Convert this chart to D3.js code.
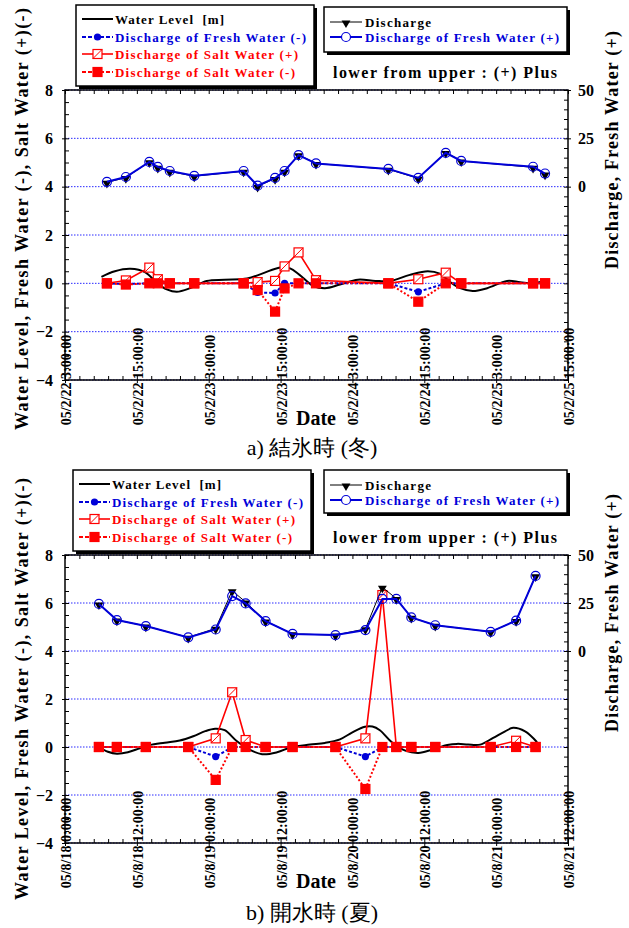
<!DOCTYPE html>
<html><head><meta charset="utf-8">
<script src="https://cdn.jsdelivr.net/npm/d3@7"></script>
<style>
body{margin:0;background:#fff}
svg{display:block}
text{font-family:"Liberation Serif","Times New Roman",serif;}
</style>
</head><body><svg id="c" width="629" height="928"></svg>
<script>
// ---------------- DATA ----------------
// a) winter (ice-covered)
const winterDomain = ["2005-02-22 03:00", "2005-02-25 15:00"];
const winterTimes = ["2005-02-22 10:00","2005-02-22 13:10","2005-02-22 17:05","2005-02-22 18:30","2005-02-22 20:30","2005-02-23 00:35",
  "2005-02-23 08:50","2005-02-23 11:10","2005-02-23 14:05","2005-02-23 15:40","2005-02-23 18:00","2005-02-23 20:55",
  "2005-02-24 09:00","2005-02-24 14:00","2005-02-24 18:35","2005-02-24 21:10","2005-02-25 09:10","2005-02-25 11:10"];
const winterDischarge  = [2.2, 4.7, 12.8, 10.0, 7.9, 5.4, 8.0, 0.2, 4.2, 8.0, 16.5, 12.0, 9.0, 4.3, 17.7, 13.3, 10.0, 6.5];
const winterFreshPlus  = [2.5, 5.0, 12.8, 10.2, 8.1, 5.6, 8.1, 0.5, 4.5, 8.1, 16.3, 12.0, 9.2, 4.5, 17.5, 13.3, 10.3, 6.8];
const winterFreshMinus = [0, -0.03, 0, 0, 0, 0, 0, -0.38, -0.4, 0, 0, 0, 0, -0.35, 0, 0, 0, 0];
const winterSaltPlus   = [0, 0.12, 0.65, 0.17, 0, 0, 0, 0.05, 0.1, 0.7, 1.28, 0.13, 0, 0.17, 0.44, 0, 0, 0];
const winterSaltMinus  = [0, -0.05, 0, 0, 0, 0, 0, -0.28, -1.17, -0.21, 0, 0, 0, -0.76, 0, 0, 0, 0];
const winterLevelTimes = ["2005-02-22 09:05","2005-02-22 11:20","2005-02-22 13:55","2005-02-22 16:25","2005-02-22 18:25","2005-02-22 20:00",
  "2005-02-22 21:40","2005-02-22 23:55","2005-02-23 02:40","2005-02-23 05:40","2005-02-23 09:25","2005-02-23 11:55","2005-02-23 14:55",
  "2005-02-23 16:35","2005-02-23 18:10","2005-02-23 20:25","2005-02-23 22:25","2005-02-24 00:55","2005-02-24 03:55","2005-02-24 06:50",
  "2005-02-24 09:20","2005-02-24 12:35","2005-02-24 15:35","2005-02-24 17:35","2005-02-24 19:20","2005-02-24 21:00","2005-02-24 23:05",
  "2005-02-25 01:30","2005-02-25 04:50","2005-02-25 07:00","2005-02-25 09:10","2005-02-25 11:40"];
const winterLevel = [0.27, 0.5, 0.6, 0.45, 0.0, -0.25, -0.35, -0.2, 0.1, 0.15, 0.2, 0.4, 0.66, 0.62, 0.35, -0.1, -0.2, -0.05, 0.15, 0.1,
  0.1, 0.35, 0.5, 0.4, 0.05, -0.2, -0.32, -0.2, 0.1, 0.05, 0.0, 0.15];

// b) summer (open water)
const summerDomain = ["2005-08-18 00:00", "2005-08-21 12:00"];
const summerTimes = ["2005-08-18 05:40","2005-08-18 08:40","2005-08-18 13:30","2005-08-18 20:35","2005-08-19 01:10","2005-08-19 03:55",
  "2005-08-19 06:10","2005-08-19 09:30","2005-08-19 14:00","2005-08-19 21:10","2005-08-20 02:10","2005-08-20 05:00",
  "2005-08-20 07:20","2005-08-20 09:50","2005-08-20 13:50","2005-08-20 23:05","2005-08-21 03:20","2005-08-21 06:35"];
const summerDischarge  = [24.5, 16.1, 13.0, 7.1, 11.8, 31.4, 25.5, 15.6, 8.9, 8.3, 11.5, 33.2, 27.3, 17.5, 13.4, 10.0, 15.8, 39.1];
const summerFreshPlus  = [24.5, 16.1, 13.0, 7.1, 11.2, 28.6, 24.8, 15.6, 8.9, 8.3, 10.9, 27.1, 27.1, 17.5, 13.4, 10.0, 15.8, 39.1];
const summerFreshMinus = [0, 0, 0, 0, -0.4, 0, 0, 0, 0, 0, -0.4, 0, 0, 0, 0, 0, 0, 0];
const summerSaltPlus   = [0, 0, 0, 0, 0.36, 2.28, 0.29, 0, 0, 0, 0.36, 6.33, 0, 0, 0, 0, 0.26, 0];
const summerSaltMinus  = [0, 0, 0, 0, -1.37, 0, 0, 0, 0, 0, -1.75, 0, 0, 0, 0, 0, 0, 0];
const summerLevelTimes = ["2005-08-18 05:40","2005-08-18 07:10","2005-08-18 08:40","2005-08-18 10:30","2005-08-18 12:30","2005-08-18 14:10",
  "2005-08-18 16:40","2005-08-18 19:10","2005-08-18 21:25","2005-08-18 23:25","2005-08-19 01:05","2005-08-19 02:40","2005-08-19 04:40",
  "2005-08-19 06:35","2005-08-19 08:55","2005-08-19 11:25","2005-08-19 13:55","2005-08-19 16:55","2005-08-19 19:25","2005-08-19 21:55",
  "2005-08-19 23:55","2005-08-20 02:05","2005-08-20 03:20","2005-08-20 04:35","2005-08-20 06:35","2005-08-20 08:50","2005-08-20 11:00",
  "2005-08-20 13:30","2005-08-20 15:50","2005-08-20 17:30","2005-08-20 19:20","2005-08-20 21:20","2005-08-20 23:30","2005-08-21 01:30",
  "2005-08-21 02:50","2005-08-21 04:50","2005-08-21 06:50"];
const summerLevel = [0.0, -0.2, -0.28, -0.22, -0.05, 0.08, 0.18, 0.27, 0.45, 0.66, 0.76, 0.7, 0.25, -0.08, -0.3, -0.22, 0.0, 0.1, 0.17,
  0.32, 0.6, 0.84, 0.85, 0.7, 0.2, -0.15, -0.25, -0.1, 0.08, 0.13, 0.1, 0.1, 0.38, 0.65, 0.8, 0.65, 0.2];

// axes / labels
const leftTicks = [8, 6, 4, 2, 0, -2, -4];
const rightTicks = [50, 25, 0];
const leftTitle = "Water Level, Fresh Water (-), Salt Water (+)(-)";
const rightTitle = "Discharge, Fresh Water (+)";
const xTitle = "Date";
const legendLeftLabels = ["Water Level  [m]", "Discharge of Fresh Water (-)", "Discharge of Salt Water (+)", "Discharge of Salt Water (-)"];
const legendRightLabels = ["Discharge", "Discharge of Fresh Water (+)"];
const noteText = "lower from upper : (+) Plus";
const captions = ["a) 結氷時 (冬)", "b) 開水時 (夏)"];

// ---------------- DRAW ----------------
const parse = d3.timeParse("%Y-%m-%d %H:%M");
const fmtDate = d3.timeFormat("%y/%-m/%-d");
const fmtTime = d3.timeFormat("%-H:%M:%S");
const svg = d3.select("#c");
const X0 = 65, X1 = 568;
const BLUE = "#0000d8", RED = "#ff0000", GRID = "#2a2aff";

const panels = [
  {domain: winterDomain, times: winterTimes, dis: winterDischarge, fp: winterFreshPlus, fm: winterFreshMinus,
   sp: winterSaltPlus, sm: winterSaltMinus, lt: winterLevelTimes, lv: winterLevel, cap: captions[0]},
  {domain: summerDomain, times: summerTimes, dis: summerDischarge, fp: summerFreshPlus, fm: summerFreshMinus,
   sp: summerSaltPlus, sm: summerSaltMinus, lt: summerLevelTimes, lv: summerLevel, cap: captions[1]}
];
const layouts = [
  {top: 90, bottom: 380, legL: [76, 5], legR: [324, 7], legRh: 45, noteY: 78, lTitleY: 219, rTitleY: 150, dateY: 425, capY: 455},
  {top: 555, bottom: 843, legL: [73, 470], legR: [324, 470], legRh: 43, noteY: 543, lTitleY: 689, rTitleY: 613, dateY: 888, capY: 920}
];

const sq = (g, cx, cy, s, filled) => {
  g.append("rect").attr("x", cx - s/2).attr("y", cy - s/2).attr("width", s).attr("height", s)
    .attr("fill", filled ? RED : "#fff").attr("stroke", RED).attr("stroke-width", 1.2);
  if (!filled) g.append("line").attr("x1", cx - s/2).attr("y1", cy + s/2).attr("x2", cx + s/2).attr("y2", cy - s/2)
    .attr("stroke", RED).attr("stroke-width", 1);
};
const tri = d3.symbol().type(d3.symbolTriangle).size(34);

panels.forEach((p, i) => {
  const L = layouts[i];
  const x = d3.scaleTime([parse(p.domain[0]), parse(p.domain[1])], [X0, X1]);
  const y = d3.scaleLinear([-4, 8], [L.bottom, L.top]);
  const yR = d3.scaleLinear([-100, 50], [L.bottom, L.top]);
  const g = svg.append("g");
  const T = p.times.map(parse);

  // grid
  g.selectAll(".gr").data(leftTicks).join("line")
    .attr("x1", X0).attr("x2", X1).attr("y1", d => y(d)).attr("y2", d => y(d))
    .attr("stroke", GRID).attr("stroke-width", 1).attr("stroke-dasharray", "1.5,1.5");

  // water level
  const lvl = p.lt.map((t, k) => [parse(t), p.lv[k]]);
  g.append("path").attr("d", d3.line().x(d => x(d[0])).y(d => y(d[1])).curve(d3.curveCatmullRom)(lvl))
    .attr("fill", "none").attr("stroke", "#000").attr("stroke-width", 2);

  const line = (vals, sc) => d3.line().x((d, k) => x(T[k])).y(d => sc(d))(vals);

  // fresh (-)
  g.append("path").attr("d", line(p.fm, y)).attr("fill", "none").attr("stroke", BLUE)
    .attr("stroke-width", 2).attr("stroke-dasharray", "3,2");
  p.fm.forEach((v, k) => g.append("circle").attr("cx", x(T[k])).attr("cy", y(v)).attr("r", 3.6).attr("fill", BLUE));

  // salt (+)
  g.append("path").attr("d", line(p.sp, y)).attr("fill", "none").attr("stroke", RED).attr("stroke-width", 1.6);
  p.sp.forEach((v, k) => sq(g, x(T[k]), y(v), 9, false));

  // salt (-)
  g.append("path").attr("d", line(p.sm, y)).attr("fill", "none").attr("stroke", RED)
    .attr("stroke-width", 2).attr("stroke-dasharray", "2,2");
  p.sm.forEach((v, k) => sq(g, x(T[k]), y(v), 9, true));

  // discharge (right axis)
  g.append("path").attr("d", line(p.dis, yR)).attr("fill", "none").attr("stroke", "#000").attr("stroke-width", 1);
  p.dis.forEach((v, k) => g.append("path").attr("d", tri)
    .attr("transform", `translate(${x(T[k])},${yR(v) + 1}) rotate(180)`).attr("fill", "#000"));

  // fresh (+)
  g.append("path").attr("d", line(p.fp, yR)).attr("fill", "none").attr("stroke", BLUE).attr("stroke-width", 2);
  p.fp.forEach((v, k) => g.append("circle").attr("cx", x(T[k])).attr("cy", yR(v)).attr("r", 4.5)
    .attr("fill", "none").attr("stroke", BLUE).attr("stroke-width", 1.2));

  // frame
  g.append("rect").attr("x", X0).attr("y", L.top).attr("width", X1 - X0).attr("height", L.bottom - L.top)
    .attr("fill", "none").attr("stroke", "#000").attr("stroke-width", 1.5);

  const clean = s => s.select(".domain").remove();
  // left axis: minor inward, major crossing + labels
  g.append("g").attr("transform", `translate(${X0},0)`)
    .call(d3.axisRight(y).tickValues(d3.range(-4, 8.01, 0.5)).tickSize(4).tickFormat("")).call(clean);
  g.append("g").attr("transform", `translate(${X0},0)`)
    .call(d3.axisLeft(y).tickValues(leftTicks).tickSize(3).tickPadding(9)).call(clean)
    .call(s => s.selectAll("text").attr("font-family", "Liberation Serif").attr("font-weight", "bold")
      .attr("font-size", 16).attr("fill", "#000"));
  // right axis
  g.append("g").attr("transform", `translate(${X1},0)`)
    .call(d3.axisLeft(yR).tickValues(d3.range(-100, 50.1, 5)).tickSize(4).tickFormat("")).call(clean);
  g.append("g").attr("transform", `translate(${X1},0)`)
    .call(d3.axisRight(yR).tickValues(rightTicks).tickSize(3).tickPadding(7)).call(clean)
    .call(s => s.selectAll("text").attr("font-family", "Liberation Serif").attr("font-weight", "bold")
      .attr("font-size", 16).attr("fill", "#000"));
  // time axes
  const t0 = parse(p.domain[0]);
  const minor = d3.range(0, 36).map(k => d3.timeMinute.offset(t0, k * 144));
  const major = d3.range(0, 8).map(k => d3.timeHour.offset(t0, k * 12));
  g.append("g").attr("transform", `translate(0,${L.top})`)
    .call(d3.axisBottom(x).tickValues(minor).tickSize(4).tickFormat("")).call(clean);
  g.append("g").attr("transform", `translate(0,${L.bottom})`)
    .call(d3.axisTop(x).tickValues(minor).tickSize(4).tickFormat("")).call(clean);
  g.append("g").attr("transform", `translate(0,${L.bottom})`)
    .call(d3.axisBottom(x).tickValues(major).tickSize(3).tickFormat("")).call(clean);
  g.selectAll("line").filter(function(){ return this.parentNode.classList.contains("tick"); })
    .attr("stroke", "#000").attr("stroke-width", 1);

  // rotated date labels, crossing the axis at the space
  major.forEach(t => {
    const ds = fmtDate(t) + " ";
    const tx = g.append("text").text(ds + fmtTime(t)).attr("font-weight", "bold").attr("font-size", 14).attr("fill", "#000");
    const w = tx.node().getSubStringLength(0, ds.length);
    tx.attr("transform", `translate(${x(t) + 6},${L.bottom + w - 1}) rotate(-90)`);
  });

  // axis titles
  g.append("text").text(leftTitle).attr("transform", `translate(28,${L.lTitleY}) rotate(-90)`)
    .attr("text-anchor", "middle").attr("font-weight", "bold").attr("font-size", 18).attr("textLength", 422);
  g.append("text").text(rightTitle).attr("transform", `translate(618,${L.rTitleY}) rotate(-90)`)
    .attr("text-anchor", "middle").attr("font-weight", "bold").attr("font-size", 18).attr("textLength", 238);
  g.append("text").text(xTitle).attr("x", 316).attr("y", L.dateY).attr("text-anchor", "middle")
    .attr("font-weight", "bold").attr("font-size", 20);
  g.append("text").text(p.cap).attr("x", 312).attr("y", L.capY).attr("text-anchor", "middle")
    .attr("font-size", 22).attr("font-family", "'Liberation Serif','Noto Sans CJK JP',serif");

  // left legend
  const [lx, ly] = L.legL;
  const lg = svg.append("g");
  lg.append("rect").attr("x", lx + 3).attr("y", ly + 3).attr("width", 238).attr("height", 81).attr("fill", "#000");
  lg.append("rect").attr("x", lx).attr("y", ly).attr("width", 238).attr("height", 81).attr("fill", "#fff")
    .attr("stroke", "#000").attr("stroke-width", 1.5);
  const rows = [14, 32, 49, 67].map(d => ly + d);
  const lens = [109, 191, 183, 180];
  const cols = ["#000", BLUE, RED, RED];
  const x1 = lx + 6, x2 = lx + 37, xm = (x1 + x2) / 2;
  lg.append("line").attr("x1", x1).attr("x2", x2).attr("y1", rows[0]).attr("y2", rows[0]).attr("stroke", "#000").attr("stroke-width", 2);
  lg.append("line").attr("x1", x1).attr("x2", x2).attr("y1", rows[1]).attr("y2", rows[1]).attr("stroke", BLUE).attr("stroke-width", 2).attr("stroke-dasharray", "4,2");
  lg.append("circle").attr("cx", xm).attr("cy", rows[1]).attr("r", 3.6).attr("fill", BLUE);
  lg.append("line").attr("x1", x1).attr("x2", x2).attr("y1", rows[2]).attr("y2", rows[2]).attr("stroke", RED).attr("stroke-width", 1.6);
  sq(lg, xm, rows[2], 9, false);
  lg.append("line").attr("x1", x1).attr("x2", x2).attr("y1", rows[3]).attr("y2", rows[3]).attr("stroke", RED).attr("stroke-width", 2).attr("stroke-dasharray", "4,2");
  sq(lg, xm, rows[3], 9, true);
  legendLeftLabels.forEach((s, k) => lg.append("text").text(s).attr("x", lx + 39).attr("y", rows[k] + 5)
    .attr("font-weight", "bold").attr("font-size", 13).attr("fill", cols[k]).attr("textLength", lens[k])
    .style("white-space", "pre"));

  // right legend
  const [rx, ry] = L.legR;
  lg.append("rect").attr("x", rx + 3).attr("y", ry + 3).attr("width", 243).attr("height", L.legRh).attr("fill", "#000");
  lg.append("rect").attr("x", rx).attr("y", ry).attr("width", 243).attr("height", L.legRh).attr("fill", "#fff")
    .attr("stroke", "#000").attr("stroke-width", 1.5);
  const rrows = [ry + 15, ry + 30];
  const rx1 = rx + 6, rx2 = rx + 38, rxm = (rx1 + rx2) / 2;
  lg.append("line").attr("x1", rx1).attr("x2", rx2).attr("y1", rrows[0]).attr("y2", rrows[0]).attr("stroke", "#000").attr("stroke-width", 1);
  lg.append("path").attr("d", tri).attr("transform", `translate(${rxm},${rrows[0] + 1}) rotate(180)`).attr("fill", "#000");
  lg.append("line").attr("x1", rx1).attr("x2", rx2).attr("y1", rrows[1]).attr("y2", rrows[1]).attr("stroke", BLUE).attr("stroke-width", 2);
  lg.append("circle").attr("cx", rxm).attr("cy", rrows[1]).attr("r", 4.5).attr("fill", "#fff").attr("stroke", BLUE).attr("stroke-width", 1.2);
  legendRightLabels.forEach((s, k) => lg.append("text").text(s).attr("x", rx + 41).attr("y", rrows[k] + 5)
    .attr("font-weight", "bold").attr("font-size", 13).attr("fill", k ? BLUE : "#000").attr("textLength", k ? 194 : 66));
  lg.append("text").text(noteText).attr("x", 333).attr("y", L.noteY).attr("font-weight", "bold").attr("font-size", 16)
    .attr("textLength", 224);
});
</script>
</body></html>
